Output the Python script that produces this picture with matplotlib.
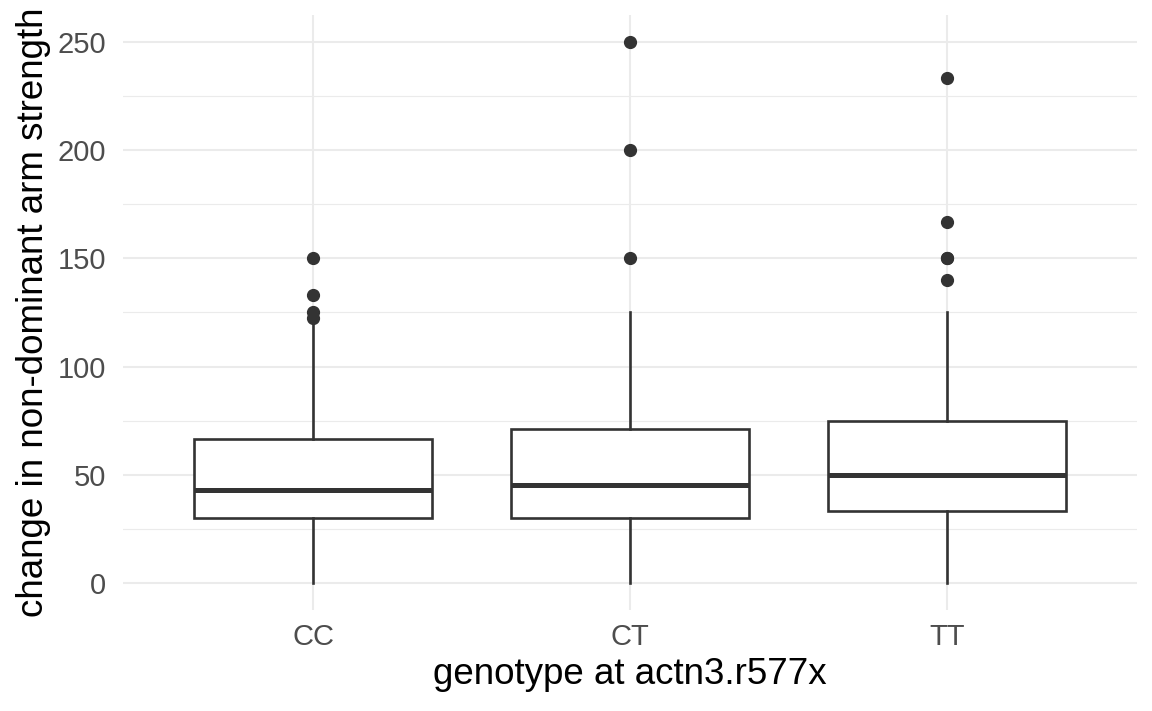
import matplotlib.pyplot as plt
import numpy as np

# box statistics
genotypes = ["CC", "CT", "TT"]
q1 = [30, 30, 33.3]
medians = [43, 45.5, 50]
q3 = [66.5, 71.3, 75]
whisker_low = [0, 0, 0]
whisker_high = [120, 125, 125]
outliers = [
    [150, 133.3, 125, 122.5],
    [150, 200, 250],
    [140, 150, 150, 166.7, 233.3],
]

plt.rcParams['font.family'] = ['Liberation Sans', 'DejaVu Sans']

fig = plt.figure(figsize=(11.52, 7.11), dpi=100)
ax = fig.add_axes([0.1068, 0.142, 0.880, 0.837])

stats = []
for i, g in enumerate(genotypes):
    stats.append(dict(label=g, q1=q1[i], med=medians[i], q3=q3[i],
                      whislo=whisker_low[i], whishi=whisker_high[i],
                      fliers=outliers[i]))

col = "#333333"
ax.bxp(stats, positions=np.arange(1, 4), widths=0.75, showcaps=False,
       patch_artist=True,
       boxprops=dict(facecolor="white", edgecolor=col, linewidth=1.9),
       whiskerprops=dict(color=col, linewidth=1.9),
       medianprops=dict(color=col, linewidth=3.6, solid_capstyle="butt"),
       flierprops=dict(marker="o", markerfacecolor=col, markeredgecolor=col,
                       markersize=8.5))

ax.set_xlim(0.4, 3.6)
ax.set_ylim(-12.5, 262.5)
ax.set_yticks([0, 50, 100, 150, 200, 250])
ax.set_yticks([25, 75, 125, 175, 225], minor=True)
ax.set_xticks([1, 2, 3])
ax.set_xticklabels(genotypes)

ax.set_axisbelow(True)
ax.grid(which="major", color="#EBEBEB", linewidth=1.5)
ax.grid(which="minor", axis="y", color="#EBEBEB", linewidth=0.8)
for s in ax.spines.values():
    s.set_visible(False)
ax.tick_params(which="both", length=0, labelsize=21, labelcolor="#4D4D4D")
ax.tick_params(axis="y", pad=12)
ax.tick_params(axis="x", pad=9)

ax.set_xlabel("genotype at actn3.r577x", fontsize=26.5, labelpad=5)
ax.set_ylabel("change in non-dominant arm strength", fontsize=26.5, labelpad=5)

fig.savefig("out.png", dpi=100)
